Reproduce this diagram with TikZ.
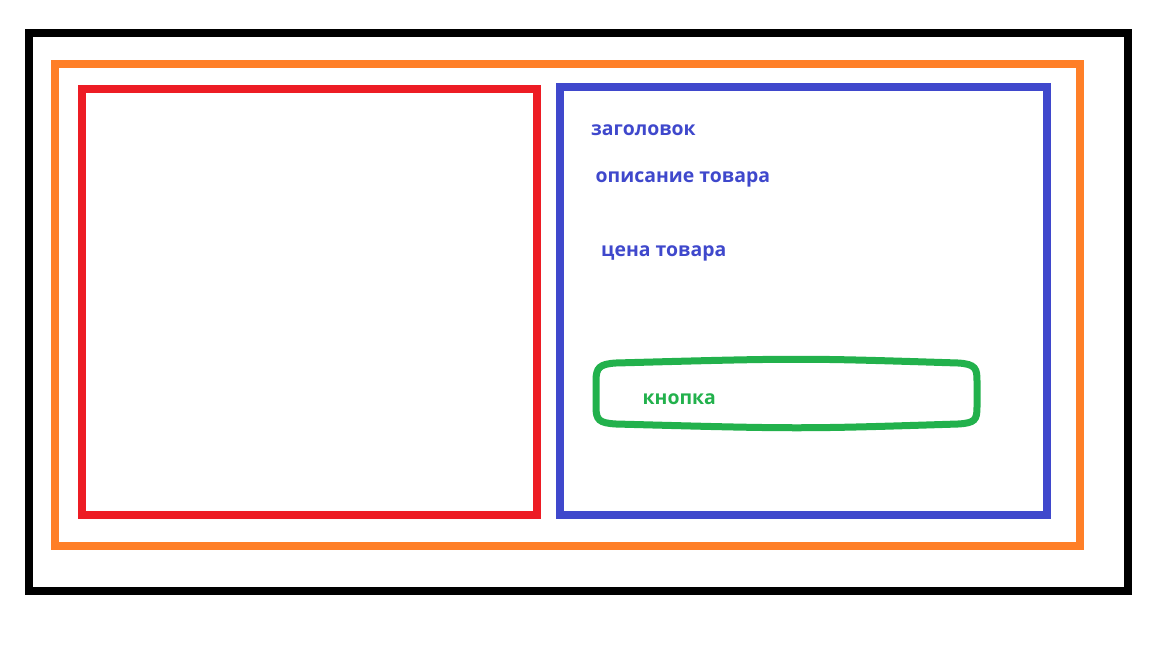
\documentclass[tikz,border=0pt]{standalone}
\usepackage{fontspec}
\setmainfont{Open Sans}
\definecolor{pblack}{HTML}{000000}
\definecolor{porange}{HTML}{FF7F27}
\definecolor{pred}{HTML}{ED1C24}
\definecolor{pblue}{HTML}{3F48CC}
\definecolor{pgreen}{HTML}{22B14C}
\tikzset{
  frame/.style={line width=8pt, line join=miter},
  label/.style={font=\fontsize{19.4}{22}\selectfont\bfseries, text=pblue, anchor=base west, inner sep=0pt},
}
\begin{document}
\begin{tikzpicture}[x=1pt,y=-1pt]
\useasboundingbox[fill=white] (0,0) rectangle (1152,648);
\draw[frame, draw=pblack] (29,33) rectangle (1128,591);
\draw[frame, draw=porange] (55,64) rectangle (1080,546);
\draw[frame, draw=pred] (82,89) rectangle (537,515);
\draw[frame, draw=pblue] (560,87) rectangle (1047,515);
\draw[line width=7pt, draw=pgreen]
  (616,363) .. controls (800,358) .. (958,363)
  .. controls (976,364) and (977,369) .. (977,381) -- (977,407)
  .. controls (977,420) and (975,423) .. (958,424)
  .. controls (800,429) .. (616,424)
  .. controls (599,423) and (596,420) .. (596,407) -- (596,381)
  .. controls (596,368) and (599,364) .. (616,363) -- cycle;
\node[label] (title) at (591,135) {заголовок};
\node[label] (desc) at (595.5,182) {описание товара};
\node[label] (price) at (601,256) {цена товара};
\node[label, text=pgreen] (button) at (642.5,404) {кнопка};
\end{tikzpicture}
\end{document}
